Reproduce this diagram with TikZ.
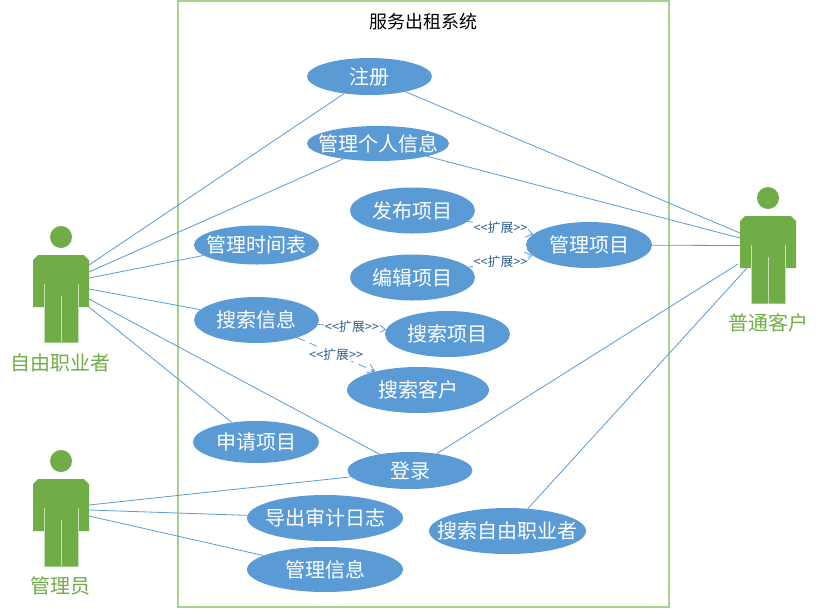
\documentclass[tikz,border=0pt]{standalone}
\usepackage{fontspec}
\setmainfont{Noto Sans CJK SC}
\usetikzlibrary{shapes.geometric,arrows.meta}

\definecolor{casefill}{HTML}{5B9BD5}
\definecolor{actorfill}{HTML}{70AD47}
\definecolor{actorline}{HTML}{C5E0B4}
\definecolor{boxline}{HTML}{A9D18E}
\definecolor{extendtext}{HTML}{2F5F8F}

\tikzset{
  usecase/.style 2 args={ellipse, fill=casefill, text=white, inner xsep=-14pt, inner ysep=-3pt,
    minimum width=#1*0.75pt, minimum height=#2*0.75pt, font=\fontsize{15}{16}\selectfont},
  assoc/.style={casefill, line width=0.6pt},
  extend/.style={casefill, line width=0.6pt, dash pattern=on 6pt off 4pt, -{Straight Barb[length=5pt,width=7pt]}},
  extendlabel/.style={fill=white, text=extendtext, inner sep=0.5pt, font=\fontsize{9.6}{10}\selectfont},
  actorlabel/.style={text=actorfill, font=\fontsize{15}{16}\selectfont}
}

\newcommand{\extendword}{<\kern0pt<扩展>\kern0pt>}

% (x of the centre, y of the head)
\newcommand{\actor}[2]{
  \begin{scope}[shift={(#1,#2)}]
    \fill[actorfill] (0,0) circle (11);
    \fill[actorfill] (-23,18) -- (23,18) -- (28,23) -- (28,70) -- (17,70) -- (17,105.5)
      -- (-17,105.5) -- (-17,70) -- (-28,70) -- (-28,23) -- (-23,18) -- cycle;
    \draw[actorline, line width=0.7pt] (-17,47) -- (-17,105.5);
    \draw[actorline, line width=0.7pt] (17,47) -- (17,105.5);
    \draw[actorline, line width=0.7pt] (0,59) -- (0,105.5);
  \end{scope}
}

\begin{document}
\begin{tikzpicture}[x=0.75pt,y=-0.75pt]

\fill[white] (0,0) rectangle (819,608);
\useasboundingbox (0,0) rectangle (819,608);

% --- System ---
\node[draw=boxline, line width=0.85pt, minimum width=491*0.75pt, minimum height=606*0.75pt, inner sep=0pt] (system) at (423.5,304) {};
\node[font=\fontsize{13.5}{16}\selectfont] (title) at (423.5,22) {服务出租系统};

% --- Actors ---
\actor{61}{237}
\actor{61}{461}
\actor{768}{198}
\node[actorlabel] (worker) at (61,363) {自由职业者};
\node[actorlabel] (admin) at (61,586) {管理员};
\node[actorlabel] (customer) at (768,323) {普通客户};

% --- Use cases ---
\node[usecase={125}{37}] (register) at (369.5,76.5) {注册};
\node[usecase={142}{35}] (profile) at (378,143.5) {管理个人信息};
\node[usecase={125}{46}] (publish) at (412.5,210.5) {发布项目};
\node[usecase={125}{39}] (schedule) at (256.5,245) {管理时间表};
\node[usecase={125}{46}] (edit) at (412.5,277.5) {编辑项目};
\node[usecase={126}{46}] (manage) at (589,245) {管理项目};
\node[usecase={125}{46}] (search) at (256.5,320) {搜索信息};
\node[usecase={125}{46}] (searchproject) at (447.5,334) {搜索项目};
\node[usecase={142}{46}] (searchclient) at (418,390) {搜索客户};
\node[usecase={126}{42}] (apply) at (256,442) {申请项目};
\node[usecase={125}{37}] (login) at (410,470.5) {登录};
\node[usecase={156}{46}] (audit) at (325,518) {导出审计日志};
\node[usecase={156}{45}] (info) at (325,569.5) {管理信息};
\node[usecase={157}{46}] (searchworker) at (507.5,531) {搜索自由职业者};

% --- Actor ports ---
\foreach \n/\x/\y in {w1/89/265, w2/89/272, w3/89/278, w4/89/289, w5/89/299, w6/89/307,
    a1/89/505, a2/89/510, a3/89/516,
    c1/740/233, c2/740/238, c3/740/245.5, c4/738/264, c5/747/268}
  \coordinate (\n) at (\x,\y);

% --- Associations ---
\foreach \p/\u in {w1/register, w2/profile, w3/schedule, w4/search, w5/login, w6/apply,
    a1/login, a2/audit, a3/info,
    c1/register, c2/profile, c3/manage, c4/login, c5/searchworker}
  \draw[assoc] (\p) -- (\u);

% --- Extends ---
\draw[extend] (publish) -- node[extendlabel, pos=0.5] {\extendword} (manage);
\draw[extend] (edit) -- node[extendlabel, pos=0.5] {\extendword} (manage);
\draw[extend] (search) -- node[extendlabel, pos=0.5] {\extendword} (searchproject);
\draw[extend] (search) -- node[extendlabel, pos=0.5] {\extendword} (searchclient);

\end{tikzpicture}
\end{document}
